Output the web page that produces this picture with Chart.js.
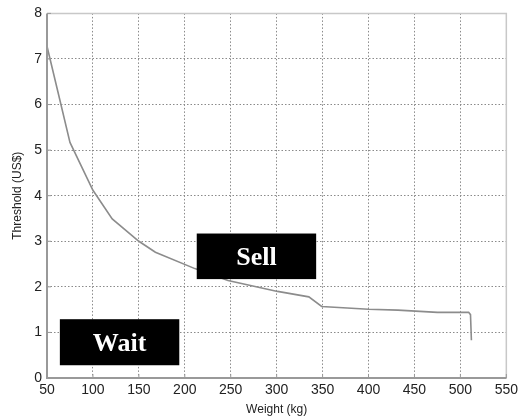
<!DOCTYPE html>
<html>
<head>
<meta charset="utf-8">
<script src="https://cdn.jsdelivr.net/npm/chart.js@4"></script>
<style>
  html, body { margin: 0; padding: 0; background: #fff; }
  #wrap { width: 522px; height: 417px; }
</style>
</head>
<body>
<div id="wrap"><canvas id="myChart" width="522" height="417"></canvas></div>
<script>
// values
var weights    = [50, 64, 75, 100, 121, 150, 168, 211, 247, 301, 335, 349, 400, 432, 475, 509, 511, 512];
var thresholds = [7.28, 6.10, 5.17, 4.12, 3.49, 3.00, 2.76, 2.40, 2.14, 1.90, 1.78, 1.57, 1.51, 1.49, 1.44, 1.44, 1.39, 0.83];

var xTicks = [50, 100, 150, 200, 250, 300, 350, 400, 450, 500, 550];
var yTicks = [0, 1, 2, 3, 4, 5, 6, 7, 8];

// region labels (in data units: x from, x to, y bottom, y top)
var regionNames = ['Sell', 'Wait'];
var regionX0 = [213, 64];
var regionX1 = [343, 194];
var regionY0 = [2.17, 0.28];
var regionY1 = [3.17, 1.29];

var frameAndBoxes = {
  id: 'frameAndBoxes',
  afterDatasetsDraw: function(chart) {
    var c = chart.ctx, a = chart.chartArea;
    var xs = chart.scales.x, ys = chart.scales.y;
    c.save();
    // frame
    c.strokeStyle = '#c8c8c8';
    c.lineWidth = 1.5;
    c.beginPath();
    c.moveTo(a.left, a.top); c.lineTo(a.right, a.top); c.lineTo(a.right, a.bottom);
    c.stroke();
    c.strokeStyle = '#999';
    c.lineWidth = 2;
    c.beginPath();
    c.moveTo(a.left, a.top); c.lineTo(a.left, a.bottom); c.lineTo(a.right, a.bottom);
    c.stroke();
    // small inward tick marks
    c.lineWidth = 1;
    c.strokeStyle = '#999';
    xTicks.forEach(function(v) {
      var px = xs.getPixelForValue(v);
      c.beginPath(); c.moveTo(px, a.bottom); c.lineTo(px, a.bottom - 4); c.stroke();
    });
    yTicks.forEach(function(v) {
      var py = ys.getPixelForValue(v);
      c.beginPath(); c.moveTo(a.left, py); c.lineTo(a.left + 4, py); c.stroke();
    });
    // black label boxes
    regionNames.forEach(function(name, i) {
      var x0 = xs.getPixelForValue(regionX0[i]), x1 = xs.getPixelForValue(regionX1[i]);
      var y0 = ys.getPixelForValue(regionY1[i]), y1 = ys.getPixelForValue(regionY0[i]);
      c.fillStyle = '#000';
      c.fillRect(x0, y0, x1 - x0, y1 - y0);
      c.fillStyle = '#fff';
      c.font = 'bold 26px "Liberation Serif", "Times New Roman", serif';
      c.textAlign = 'center';
      c.textBaseline = 'middle';
      c.fillText(name, (x0 + x1) / 2, (y0 + y1) / 2 + 2);
    });
    c.restore();
  }
};

var ctx = document.getElementById('myChart').getContext('2d');
var chart = new Chart(ctx, {
  type: 'line',
  data: {
    datasets: [{
      data: weights.map(function(w, i) { return { x: w, y: thresholds[i] }; }),
      borderColor: '#8c8c8c',
      borderWidth: 1.6,
      pointRadius: 0,
      tension: 0,
      fill: false
    }]
  },
  options: {
    responsive: false,
    animation: false,
    layout: { padding: { top: 12, right: 11, left: 0, bottom: 0 } },
    plugins: { legend: { display: false }, tooltip: { enabled: false } },
    scales: {
      x: {
        type: 'linear',
        min: 50, max: 550,
        afterBuildTicks: function(s) { s.ticks = xTicks.map(function(v) { return { value: v }; }); },
        afterFit: function(s) { s.height = 39; },
        grid: { color: '#8a8a8a', lineWidth: 1, drawTicks: false },
        border: { display: false, dash: [1.5, 2] },
        ticks: { color: '#222', padding: 4, maxRotation: 0, font: { family: 'Arial, "Liberation Sans", sans-serif', size: 14 } },
        title: { display: true, text: 'Weight (kg)', color: '#222', padding: { top: 0, bottom: 0 }, font: { family: 'Arial, "Liberation Sans", sans-serif', size: 12 } }
      },
      y: {
        min: 0, max: 8,
        afterBuildTicks: function(s) { s.ticks = yTicks.map(function(v) { return { value: v }; }); },
        afterFit: function(s) { s.width = 47; },
        grid: { color: '#8a8a8a', lineWidth: 1, drawTicks: false },
        border: { display: false, dash: [1.5, 2] },
        ticks: { color: '#222', padding: 5, font: { family: 'Arial, "Liberation Sans", sans-serif', size: 14 } },
        title: { display: true, text: 'Threshold (US$)', color: '#222', padding: { top: 10, bottom: 0 }, font: { family: 'Arial, "Liberation Sans", sans-serif', size: 12 } }
      }
    }
  },
  plugins: [frameAndBoxes]
});
</script>
</body>
</html>
